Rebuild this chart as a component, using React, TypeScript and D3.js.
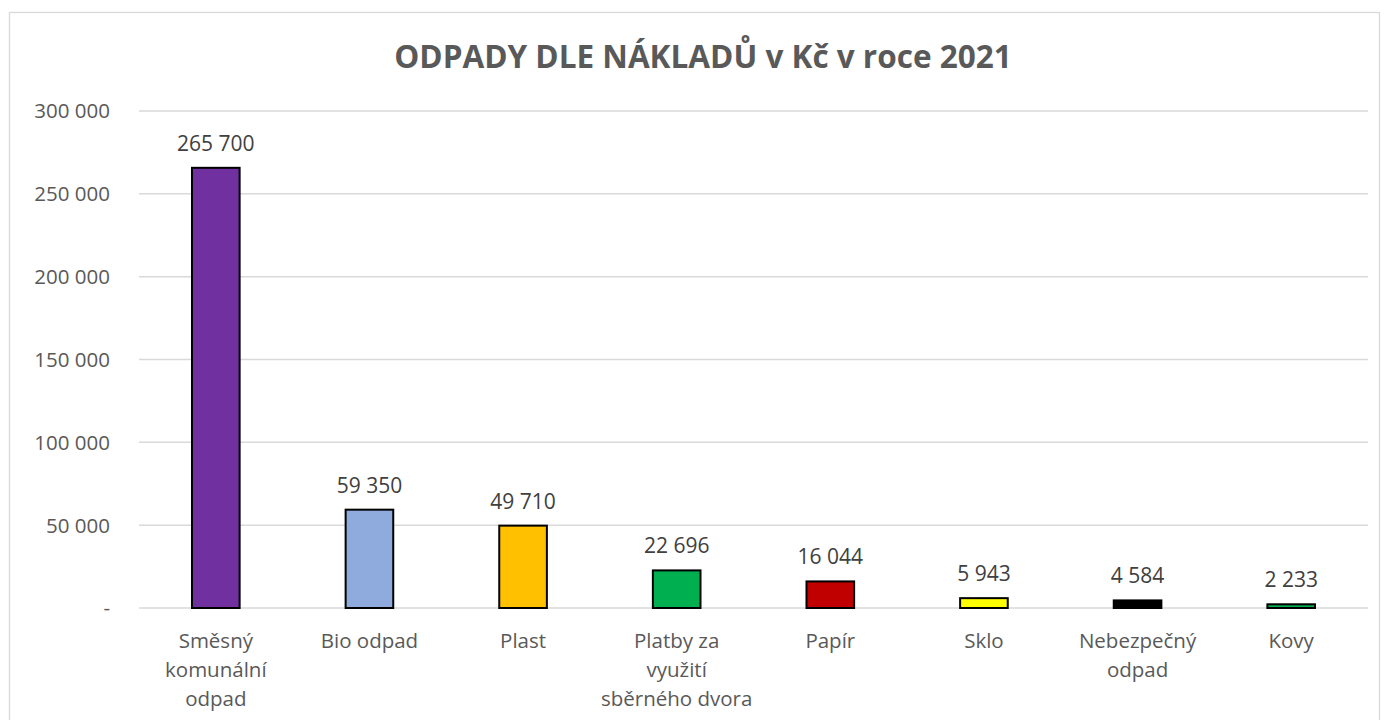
import React from 'react';
import * as d3 from 'd3';

// values
const categories = [
  'Směsný komunální odpad',
  'Bio odpad',
  'Plast',
  'Platby za využití sběrného dvora',
  'Papír',
  'Sklo',
  'Nebezpečný odpad',
  'Kovy',
];
const categoryLines = [
  ['Směsný', 'komunální', 'odpad'],
  ['Bio odpad'],
  ['Plast'],
  ['Platby za', 'využití', 'sběrného dvora'],
  ['Papír'],
  ['Sklo'],
  ['Nebezpečný', 'odpad'],
  ['Kovy'],
];
const costs = [265700, 59350, 49710, 22696, 16044, 5943, 4584, 2233];
const barColors = ['#7030A0', '#8FAADC', '#FFC000', '#00B050', '#C00000', '#FFFF00', '#000000', '#00B050'];
const yTicks = [0, 50000, 100000, 150000, 200000, 250000, 300000];
const title = 'ODPADY DLE NÁKLADŮ v Kč v roce 2021';

const FONT = '"Open Sans", "Liberation Sans", sans-serif';

export default function App() {
  const svgWidth = 1389, svgHeight = 720;
  const plot = {left: 139, right: 1368, top: 111, bottom: 608};

  const xScale = d3.scaleBand<string>()
    .domain(categories)
    .range([plot.left, plot.right])
    .paddingInner(0.69)
    .paddingOuter(0.345);
  const yScale = d3.scaleLinear()
    .domain([0, 300000])
    .range([plot.bottom, plot.top]);

  const locale = d3.formatLocale({decimal: ',', thousands: ' ', grouping: [3], currency: ['', ' Kč']});
  const fmt = locale.format(',d');
  const tickFmt = (v: number) => (v === 0 ? '-' : fmt(v));

  return (
    <svg width={svgWidth} height={svgHeight} style={{position: 'absolute', left: 0, top: 0}} fontFamily={FONT}>
      <rect x={0} y={0} width={svgWidth} height={svgHeight} fill="#fff" />
      <rect x={9.5} y={12.5} width={1370} height={720} fill="#fff" stroke="#d9d9d9" strokeWidth={1.3} />

      <text x={703} y={68} textAnchor="middle" fontSize={31.5} fontWeight="bold" fill="#595959">{title}</text>

      {/* gridlines and y labels */}
      {yTicks.map(t => (
        <g key={t}>
          <line x1={plot.left} x2={plot.right} y1={yScale(t)} y2={yScale(t)} stroke="#d9d9d9" strokeWidth={1.5} />
          <text x={110} y={yScale(t)} dy="0.36em" textAnchor="end" fontSize={20.5} fill="#595959">{tickFmt(t)}</text>
        </g>
      ))}

      {/* bars */}
      {categories.map((c, i) => (
        <rect key={c}
          x={xScale(c)!}
          y={yScale(costs[i])}
          width={xScale.bandwidth()}
          height={yScale(0) - yScale(costs[i])}
          fill={barColors[i]}
          stroke="#000"
          strokeWidth={2} />
      ))}

      {/* data labels */}
      {categories.map((c, i) => (
        <text key={c}
          x={xScale(c)! + xScale.bandwidth() / 2}
          y={yScale(costs[i]) - 17}
          textAnchor="middle" fontSize={21} fill="#404040">{fmt(costs[i])}</text>
      ))}

      {/* category labels */}
      {categories.map((c, i) => (
        <text key={c}
          x={xScale(c)! + xScale.bandwidth() / 2}
          y={648}
          textAnchor="middle" fontSize={20.5} fill="#595959">
          {categoryLines[i].map((line, j) => (
            <tspan key={j} x={xScale(c)! + xScale.bandwidth() / 2} dy={j === 0 ? 0 : 29}>{line}</tspan>
          ))}
        </text>
      ))}
    </svg>
  );
}
